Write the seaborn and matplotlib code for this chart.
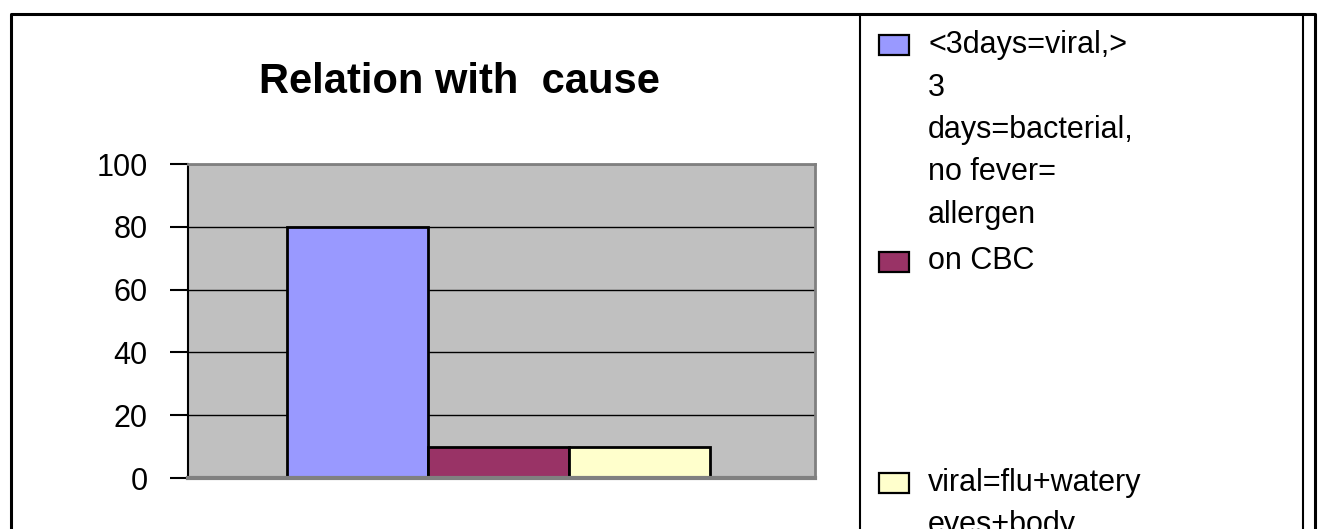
import pandas as pd
import matplotlib.pyplot as plt
import seaborn as sns
from matplotlib.lines import Line2D
from matplotlib.patches import Rectangle

# Chart data
title = 'Relation with  cause'
categories = ['']
legend_lines = [
    ['<3days=viral,>', '3', 'days=bacterial,', 'no fever=', 'allergen'],
    ['on CBC'],
    ['viral=flu+watery', 'eyes+body'],
]
series = ['\n'.join(lines) for lines in legend_lines]
values = [80, 10, 10]
colors = ['#9999FF', '#993366', '#FFFFCC']
y_ticks = [0, 20, 40, 60, 80, 100]

W, H = 1323, 529


def fx(px):
    return px / W


def fy(py):
    return 1 - py / H


sns.set_style('white')
plt.rcParams['font.family'] = ['Liberation Sans', 'DejaVu Sans']
plt.rcParams['text.color'] = 'black'
plt.rcParams['ytick.labelcolor'] = 'black'

fig = plt.figure(figsize=(W / 100, H / 100), dpi=100)
fig.patch.set_facecolor('white')

# Plot area
ax = fig.add_axes([fx(188), fy(478), fx(815) - fx(188), fy(164) - fy(478)])
df = pd.DataFrame({
    'group': categories * len(series),
    'series': series,
    'value': values,
})
sns.barplot(data=df, x='group', y='value', hue='series', hue_order=series,
            palette=colors, saturation=1, edgecolor='black', linewidth=2,
            width=0.674, legend=False, ax=ax)

ax.set_facecolor('#C0C0C0')
ax.set_ylim(0, 100)
ax.set_xlim(-0.495, 0.505)
ax.set_yticks(y_ticks)
ax.set_axisbelow(True)
ax.yaxis.grid(True, color='black', linewidth=1)
ax.xaxis.grid(False)
ax.set_xlabel('')
ax.set_ylabel('')
ax.set_xticks([])
ax.tick_params(axis='y', length=13, width=1.5, pad=16, labelsize=22,
               color='black', labelcolor='black', left=True)
for side in ['top', 'right']:
    ax.spines[side].set_color('#808080')
    ax.spines[side].set_linewidth(2)
ax.spines['bottom'].set_color('#808080')
ax.spines['bottom'].set_linewidth(3)
ax.spines['left'].set_color('black')
ax.spines['left'].set_linewidth(1.5)

# Title
fig.text(fx(459), fy(82), title, ha='center', va='center',
         fontsize=30, fontweight='bold', color='black')

# Legend drawn by hand to keep Excel-like spacing
patch_centers = [45, 262, 483]
first_baselines = [53, 269, 491]
line_step = 42.5
for lines, color, pc, base in zip(legend_lines, colors, patch_centers, first_baselines):
    fig.add_artist(Rectangle((fx(879), fy(pc + 10)), fx(30), 20 / H,
                             facecolor=color, edgecolor='black', linewidth=1.6,
                             transform=fig.transFigure))
    for i, line in enumerate(lines):
        fig.text(fx(928), fy(base + i * line_step), line, ha='left',
                 va='baseline', fontsize=22, color='black')

# Outer frame and legend box
fig.add_artist(Line2D([fx(11), fx(11), fx(1315), fx(1315)],
                      [fy(540), fy(14), fy(14), fy(540)],
                      color='black', linewidth=2.2, transform=fig.transFigure))
fig.add_artist(Line2D([fx(860), fx(860)], [fy(540), fy(14)],
                      color='black', linewidth=1.5, transform=fig.transFigure))
fig.add_artist(Line2D([fx(1303), fx(1303)], [fy(540), fy(14)],
                      color='black', linewidth=1.5, transform=fig.transFigure))

fig.savefig('out.png', dpi=100)
